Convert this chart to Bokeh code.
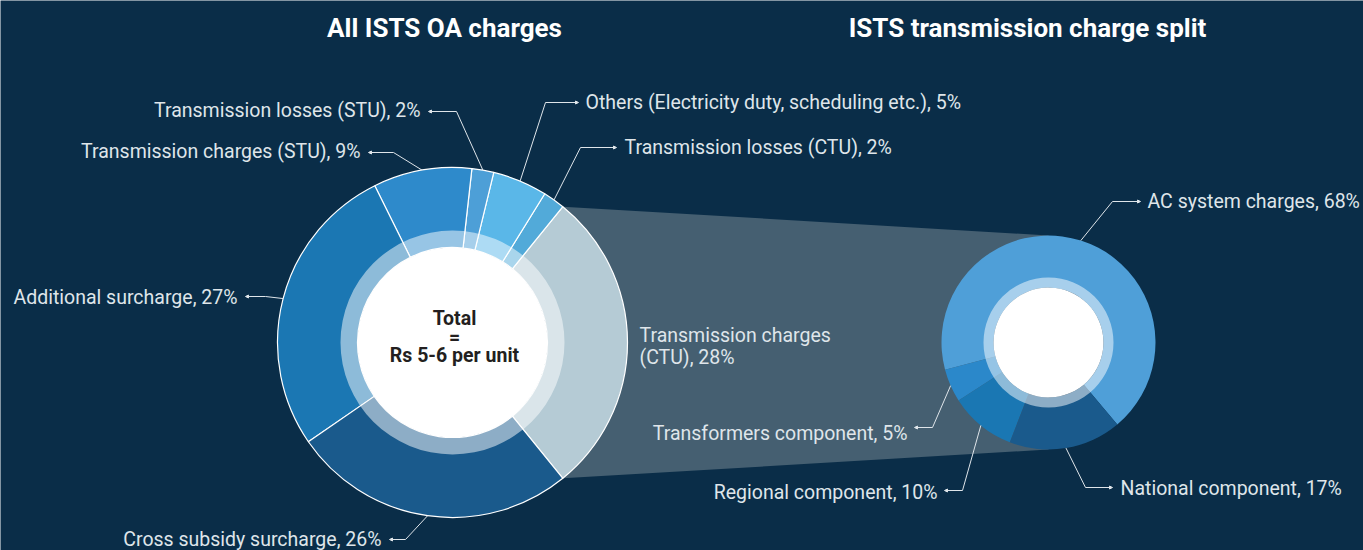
import numpy as np
from bokeh.plotting import figure
from bokeh.models import Range1d, ColumnDataSource, Arrow, NormalHead
from bokeh.core.properties import value
from bokeh.embed import file_html
from bokeh.resources import INLINE

# ---------------- data ----------------
titles = ["All ISTS OA charges", "ISTS transmission charge split"]
center_lines = ["Total", "=", "Rs 5-6 per unit"]

oa_labels = ["Transmission charges (CTU)", "Transmission losses (CTU)",
             "Others (Electricity duty, scheduling etc.)", "Transmission losses (STU)",
             "Transmission charges (STU)", "Additional surcharge", "Cross subsidy surcharge"]
oa_values = [28, 2, 5, 2, 9, 27, 26]
oa_colors = ["#b5cbd5", "#52aad9", "#5ab7e8", "#4d9fd7", "#2e8acb", "#1b77b3", "#1a5a8c"]

split_labels = ["AC system charges", "Transformers component", "Regional component", "National component"]
split_values = [68, 5, 10, 17]
split_colors = ["#4f9fd8", "#2b88ca", "#1a77b3", "#1a5a8c"]

# ---------------- styling / layout ----------------
BG = "#0a2d48"
CONNECT = "#455f71"
TXT = "#dfe5ea"
FONT = "Roboto"
W, H = 1363, 550


def Y(y):
    return H - y


def angles(vals, start):
    v = np.asarray(vals, dtype=float)
    frac = v / v.sum() * 2 * np.pi
    ends = start + np.cumsum(frac)
    starts = ends - frac
    return starts, ends


LX, LY = 452, Y(342)
L_OUT, L_RING, L_IN = 175, 112, 95
RX, RY = 1048, Y(342)
R_OUT, R_RING, R_IN = 107, 65, 55

frac0 = oa_values[0] / sum(oa_values) * 2 * np.pi
l_start, l_end = angles(oa_values, -frac0 / 2)
r_start, r_end = angles(split_values, np.deg2rad(-50))

p = figure(width=W, height=H, x_range=Range1d(0, W), y_range=Range1d(0, H),
           output_backend="svg", toolbar_location=None, x_axis_type=None, y_axis_type=None,
           min_border=0, background_fill_color=BG, border_fill_color=BG, outline_line_color=None)
p.grid.visible = False

# connector band
px = [LX + L_OUT * np.cos(l_end[0]), RX, RX, LX + L_OUT * np.cos(l_start[0])]
py = [LY + L_OUT * np.sin(l_end[0]), RY + R_OUT, RY - R_OUT, LY + L_OUT * np.sin(l_start[0])]
p.patch(px, py, fill_color=CONNECT, line_color=None)

# left donut
p.annular_wedge(x=LX, y=LY, inner_radius=L_IN, outer_radius=L_OUT,
                start_angle=list(l_start), end_angle=list(l_end),
                fill_color=oa_colors, line_color="white", line_width=1.2)
p.annulus(x=LX, y=LY, inner_radius=L_IN, outer_radius=L_RING,
          fill_color="white", fill_alpha=0.5, line_color=None)
p.circle(x=LX, y=LY, radius=L_IN, fill_color="white", line_color=None)

# right donut
p.annular_wedge(x=RX, y=RY, inner_radius=R_IN, outer_radius=R_OUT,
                start_angle=list(r_start), end_angle=list(r_end),
                fill_color=split_colors, line_color=None)
p.annulus(x=RX, y=RY, inner_radius=R_IN, outer_radius=R_RING,
          fill_color="white", fill_alpha=0.5, line_color=None)
p.circle(x=RX, y=RY, radius=R_IN, fill_color="white", line_color=None)

# titles
p.text(x=[444, 1027], y=[Y(27), Y(27)], text=titles, text_align="center", text_baseline="middle",
       text_font=value(FONT), text_font_style="bold", text_font_size="26px", text_color="white")

# centre text
p.text(x=[LX + 2] * 3, y=[Y(318), Y(337), Y(355)], text=center_lines, text_align="center",
       text_baseline="middle", text_font=value(FONT), text_font_style="bold",
       text_font_size="19.5px", text_color="#231f20")

# labels: (text_x, text_y, align, line_y, elbow_x, end_x)
oa_layout = [
    None,
    (624, 147, "left", 147, 580, 616),
    (585, 102, "left", 102, 545, 578),
    (420, 110, "right", 111, 456, 428),
    (360, 151, "right", 152, 393, 368),
    (237, 297, "right", 296, 265, 245),
    (381, 539, "right", 539, 405, 389),
]
split_layout = [
    (1147, 201, "left", 201, 1112, 1140),
    (907, 433, "right", 427, 932, 914),
    (937, 492, "right", 490, 962, 944),
    (1120, 488, "left", 487, 1085, 1112),
]

tx, ty, tt, ta = [], [], [], []
sx0, sy0, sx1, sy1 = [], [], [], []
ax0, ay0, ax1, ay1 = [], [], [], []


def add_labels(labels, vals, starts, ends, layout, cx, cy, r):
    for lab, v, s, e, lay in zip(labels, vals, starts, ends, layout):
        if lay is None:
            continue
        txx, tyy, al, lyy, ex, endx = lay
        tx.append(txx); ty.append(Y(tyy)); tt.append(f"{lab}, {v}%"); ta.append(al)
        m = (s + e) / 2
        sx0.append(cx + r * np.cos(m)); sy0.append(cy + r * np.sin(m))
        sx1.append(ex); sy1.append(Y(lyy))
        ax0.append(ex); ay0.append(Y(lyy)); ax1.append(endx); ay1.append(Y(lyy))


add_labels(oa_labels, oa_values, l_start, l_end, oa_layout, LX, LY, L_OUT)
add_labels(split_labels, split_values, r_start, r_end, split_layout, RX, RY, R_OUT)

# CTU two-line label (no leader)
ctu_name = oa_labels[0].replace(" (CTU)", "")
tx += [639, 639]; ty += [Y(335), Y(357)]
tt += [ctu_name, f"(CTU), {oa_values[0]}%"]; ta += ["left", "left"]

src = ColumnDataSource(dict(x=tx, y=ty, text=tt, align=ta))
p.text(x="x", y="y", text="text", text_align="align", text_baseline="middle", source=src,
       text_font=value(FONT), text_font_size="19.5px", text_color=TXT)

p.segment(x0=sx0, y0=sy0, x1=sx1, y1=sy1, line_color=TXT, line_width=1)
arrow_src = ColumnDataSource(dict(x0=ax0, y0=ay0, x1=ax1, y1=ay1))
p.add_layout(Arrow(source=arrow_src, x_start="x0", y_start="y0", x_end="x1", y_end="y1",
                   line_color=TXT, line_width=1,
                   end=NormalHead(size=3, fill_color=TXT, line_color=TXT, line_width=1)))

open("out.html", "w").write(file_html(p, INLINE))
